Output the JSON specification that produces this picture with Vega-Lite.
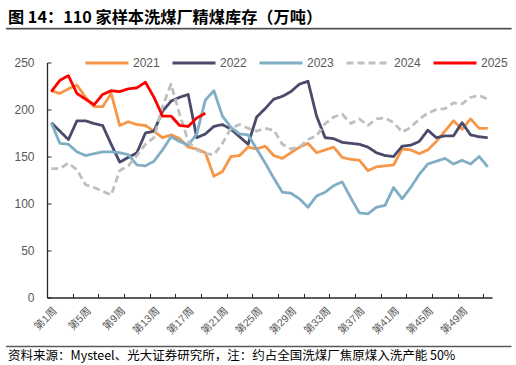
{
  "$schema": "https://vega.github.io/schema/vega-lite/v6.json",
  "padding": {"left": 5, "right": 6, "top": 9, "bottom": 2},
  "config": {
    "view": {"stroke": null},
    "font": "Liberation Sans, Noto Sans CJK SC"
  },
  "spacing": 8,
  "vconcat": [
    {
      "spacing": 26.5,
      "vconcat": [
        {
          "width": 505,
          "height": 0.8,
          "data": {"values": []},
          "mark": "point",
          "view": {"stroke": "#404040", "strokeWidth": 0.8, "fill": "#404040"},
          "title": {
            "text": "图 14：110 家样本洗煤厂精煤库存（万吨）",
            "anchor": "start",
            "font": "Noto Sans CJK SC",
            "fontSize": 16.2,
            "fontWeight": "bold",
            "color": "#000000",
            "offset": 1.5,
            "dx": 2
          }
        },
        {
          "width": 486,
          "height": 235,
          "data": {
            "values": [
              {"week": 1, "2021": 220, "2022": 186, "2023": 186, "2024": 137, "2025": 219},
              {"week": 2, "2021": 217, "2022": 177, "2023": 164, "2024": 137, "2025": 231},
              {"week": 3, "2021": 222, "2022": 168, "2023": 163, "2024": 143, "2025": 236},
              {"week": 4, "2021": 226, "2022": 188, "2023": 155, "2024": 136, "2025": 217},
              {"week": 5, "2021": 213, "2022": 188, "2023": 151, "2024": 120, "2025": 211},
              {"week": 6, "2021": 203, "2022": 185, "2023": 153, "2024": 117, "2025": 205},
              {"week": 7, "2021": 203, "2022": 183, "2023": 155, "2024": 113, "2025": 216},
              {"week": 8, "2021": 217, "2022": 163, "2023": 155, "2024": 109, "2025": 220},
              {"week": 9, "2021": 183, "2022": 144, "2023": 154, "2024": 135, "2025": 219},
              {"week": 10, "2021": 187, "2022": 149, "2023": 152, "2024": 140, "2025": 222},
              {"week": 11, "2021": 184, "2022": 154, "2023": 141, "2024": 151, "2025": 223},
              {"week": 12, "2021": 183, "2022": 175, "2023": 140, "2024": 163, "2025": 229},
              {"week": 13, "2021": 177, "2022": 177, "2023": 145, "2024": 170, "2025": 213},
              {"week": 14, "2021": 170, "2022": 198, "2023": 157, "2024": 203, "2025": 193},
              {"week": 15, "2021": 173, "2022": 209, "2023": 171, "2024": 227, "2025": 193},
              {"week": 16, "2021": 169, "2022": 213, "2023": 166, "2024": 195, "2025": 183},
              {"week": 17, "2021": 160, "2022": 216, "2023": 162, "2024": 166, "2025": 182},
              {"week": 18, "2021": 158, "2022": 170, "2023": 174, "2024": 157, "2025": 191},
              {"week": 19, "2021": 154, "2022": 174, "2023": 210, "2024": 153, "2025": 196},
              {"week": 20, "2021": 129, "2022": 182, "2023": 220, "2024": 152},
              {"week": 21, "2021": 134, "2022": 184, "2023": 193, "2024": 164},
              {"week": 22, "2021": 150, "2022": 179, "2023": 181, "2024": 180},
              {"week": 23, "2021": 151, "2022": 171, "2023": 174, "2024": 184},
              {"week": 24, "2021": 160, "2022": 163, "2023": 173, "2024": 180},
              {"week": 25, "2021": 158, "2022": 192, "2023": 158, "2024": 177},
              {"week": 26, "2021": 161, "2022": 201, "2023": 143, "2024": 180},
              {"week": 27, "2021": 151, "2022": 211, "2023": 127, "2024": 178},
              {"week": 28, "2021": 148, "2022": 214, "2023": 112, "2024": 163},
              {"week": 29, "2021": 154, "2022": 219, "2023": 111, "2024": 158},
              {"week": 30, "2021": 160, "2022": 227, "2023": 105, "2024": 160},
              {"week": 31, "2021": 164, "2022": 230, "2023": 96, "2024": 168},
              {"week": 32, "2021": 154, "2022": 193, "2023": 108, "2024": 172},
              {"week": 33, "2021": 157, "2022": 170, "2023": 112, "2024": 185},
              {"week": 34, "2021": 160, "2022": 169, "2023": 119, "2024": 192},
              {"week": 35, "2021": 149, "2022": 165, "2023": 123, "2024": 195},
              {"week": 36, "2021": 147, "2022": 164, "2023": 106, "2024": 185},
              {"week": 37, "2021": 146, "2022": 163, "2023": 90, "2024": 190},
              {"week": 38, "2021": 135, "2022": 160, "2023": 89, "2024": 183},
              {"week": 39, "2021": 139, "2022": 154, "2023": 96, "2024": 190},
              {"week": 40, "2021": 140, "2022": 151, "2023": 98, "2024": 191},
              {"week": 41, "2021": 141, "2022": 150, "2023": 117, "2024": 186},
              {"week": 42, "2021": 158, "2022": 161, "2023": 105, "2024": 176},
              {"week": 43, "2021": 157, "2022": 162, "2023": 117, "2024": 181},
              {"week": 44, "2021": 153, "2022": 166, "2023": 131, "2024": 190},
              {"week": 45, "2021": 157, "2022": 178, "2023": 142, "2024": 196},
              {"week": 46, "2021": 166, "2022": 170, "2023": 145, "2024": 200},
              {"week": 47, "2021": 177, "2022": 172, "2023": 148, "2024": 201},
              {"week": 48, "2021": 188, "2022": 172, "2023": 142, "2024": 207},
              {"week": 49, "2021": 179, "2022": 186, "2023": 146, "2024": 206},
              {"week": 50, "2021": 190, "2022": 173, "2023": 142, "2024": 213},
              {"week": 51, "2021": 180, "2022": 171, "2023": 150, "2024": 215},
              {"week": 52, "2021": 180, "2022": 170, "2023": 139, "2024": 211}
            ]
          },
          "transform": [
            {"fold": ["2021", "2022", "2023", "2024", "2025"], "as": ["year", "value"]}
          ],
          "mark": {"type": "line", "strokeJoin": "round"},
          "encoding": {
            "x": {
              "field": "week",
              "type": "quantitative",
              "scale": {"domain": [0.5, 52.5], "range": [41, 486], "nice": false, "zero": false},
              "axis": {
                "title": null,
                "grid": false,
                "values": [0.5, 1, 3.5, 5, 6.5, 9, 9.5, 12.5, 13, 15.5, 17, 18.5, 21, 21.5, 24.5, 25, 27.5, 29, 30.5, 33, 33.5, 36.5, 37, 39.5, 41, 42.5, 45, 45.5, 48.5, 49, 51.5],
                "labelExpr": "datum.value % 1 == 0 ? '第' + datum.value + '周' : ''",
                "labelAngle": -45,
                "labelOverlap": false,
                "labelBound": false,
                "labelFlush": false,
                "labelFontSize": 10.5,
                "labelColor": "#595959",
                "labelPadding": 12,
                "tickSize": -4,
                "tickColor": "#262626",
                "tickOpacity": {"condition": {"test": "datum.value % 1 != 0", "value": 1}, "value": 0},
                "domainColor": "#262626",
                "domainWidth": 1.3
              }
            },
            "y": {
              "field": "value",
              "type": "quantitative",
              "scale": {"domain": [0, 250], "nice": false},
              "axis": {
                "title": null,
                "grid": false,
                "values": [0, 50, 100, 150, 200, 250],
                "offset": -41,
                "labelFontSize": 12,
                "labelColor": "#595959",
                "labelPadding": 17,
                "tickSize": -4,
                "tickColor": "#262626",
                "domainColor": "#262626",
                "domainWidth": 1.3
              }
            },
            "color": {
              "field": "year",
              "type": "nominal",
              "scale": {
                "domain": ["2021", "2022", "2023", "2024", "2025"],
                "range": ["#F79646", "#4A4A6B", "#80AEC4", "#BFBFBF", "#FF0000"]
              },
              "legend": {
                "title": null,
                "orient": "none",
                "direction": "horizontal",
                "legendX": 78,
                "legendY": 12,
                "symbolType": "stroke",
                "symbolSize": 1849,
                "labelFontSize": 12,
                "labelColor": "#595959",
                "labelOffset": 3,
                "columnPadding": 6
              }
            },
            "strokeDash": {
              "field": "year",
              "type": "nominal",
              "scale": {
                "domain": ["2021", "2022", "2023", "2024", "2025"],
                "range": [[1, 0], [1, 0], [1, 0], [7, 4], [1, 0]]
              },
              "legend": {
                "title": null,
                "orient": "none",
                "direction": "horizontal",
                "legendX": 78,
                "legendY": 12,
                "symbolType": "stroke",
                "symbolSize": 1849,
                "labelFontSize": 12,
                "labelColor": "#595959",
                "labelOffset": 3,
                "columnPadding": 6
              }
            },
            "strokeWidth": {
              "field": "year",
              "type": "nominal",
              "scale": {
                "domain": ["2021", "2022", "2023", "2024", "2025"],
                "range": [2.8, 2.8, 2.8, 2.8, 4]
              },
              "legend": {
                "title": null,
                "orient": "none",
                "direction": "horizontal",
                "legendX": 78,
                "legendY": 12,
                "symbolType": "stroke",
                "symbolSize": 1849,
                "labelFontSize": 12,
                "labelColor": "#595959",
                "labelOffset": 3,
                "columnPadding": 6
              }
            }
          }
        }
      ]
    },
    {
      "width": 505,
      "height": 0.6,
      "data": {"values": []},
      "mark": "point",
      "view": {"stroke": "#404040", "strokeWidth": 0.7, "fill": "#404040"},
      "title": {
        "text": "资料来源：Mysteel、光大证券研究所，注：约占全国洗煤厂焦原煤入洗产能 50%",
        "orient": "bottom",
        "anchor": "start",
        "font": "Noto Sans CJK SC",
        "fontSize": 12.5,
        "fontWeight": "normal",
        "color": "#000000",
        "offset": 3,
        "dx": 2
      }
    }
  ]
}
